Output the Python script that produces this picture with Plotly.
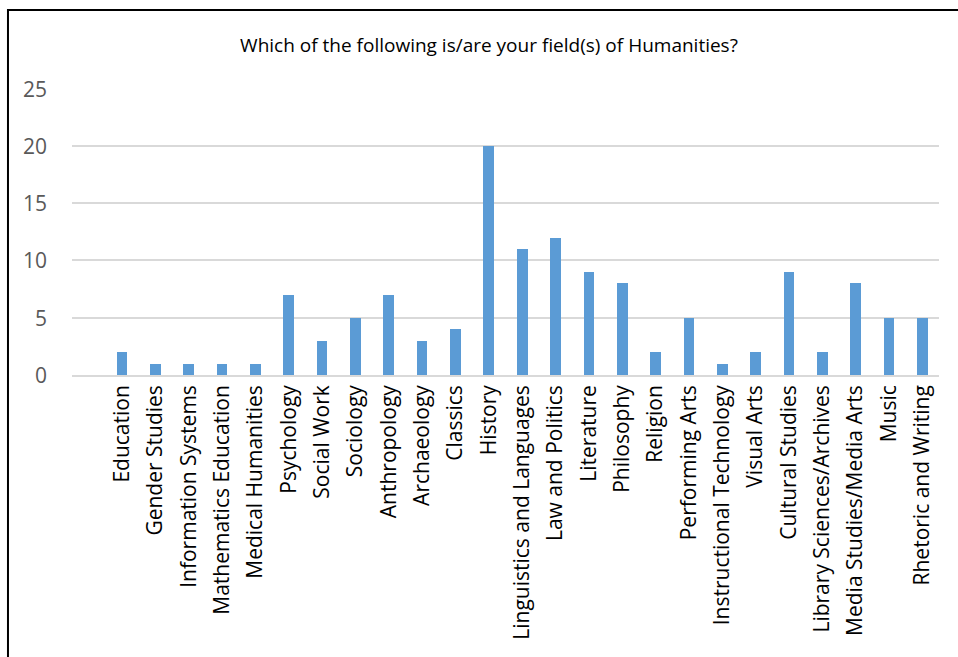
import plotly.graph_objects as go

categories = ["Education", "Gender Studies", "Information Systems", "Mathematics Education",
              "Medical Humanities", "Psychology", "Social Work", "Sociology", "Anthropology",
              "Archaeology", "Classics", "History", "Linguistics and Languages", "Law and Politics",
              "Literature", "Philosophy", "Religion", "Performing Arts", "Instructional Technology",
              "Visual Arts", "Cultural Studies", "Library Sciences/Archives",
              "Media Studies/Media Arts", "Music", "Rhetoric and Writing"]
values = [2, 1, 1, 1, 1, 7, 3, 5, 7, 3, 4, 20, 11, 12, 9, 8, 2, 5, 1, 2, 9, 2, 8, 5, 5]
y_ticks = [0, 5, 10, 15, 20, 25]

positions = list(range(len(categories)))

W, H = 958, 657
L, R, T, B = 72, 958 - 938.7, 88, 657 - 375
pw = W - L - R
ph = H - T - B

fig = go.Figure(go.Bar(x=positions, y=values, marker_color="#5B9BD5",
                       marker_line_width=0, width=0.32))

fig.update_layout(
    width=W, height=H,
    margin=dict(l=L, r=R, t=T, b=B, pad=0, autoexpand=False),
    paper_bgcolor="white", plot_bgcolor="white",
    font=dict(family="Open Sans, sans-serif"),
    title=dict(text="Which of the following is/are your field(s) of Humanities?",
               x=(489 - 0) / W, xanchor="center", y=1 - 45 / H, yanchor="middle",
               font=dict(size=19, color="black")),
    showlegend=False,
    bargap=0,
)
fig.update_xaxes(range=[-1.5, len(categories) - 0.5], tickmode="array", tickvals=positions,
                 ticktext=categories, tickangle=-90, ticks="", showgrid=False,
                 showline=True, linecolor="#d9d9d9", linewidth=1.5, automargin=False,
                 tickfont=dict(size=21, color="black"), zeroline=False)
fig.update_yaxes(range=[0, 25.06], tickmode="array", tickvals=y_ticks, showgrid=True,
                 gridcolor="#d9d9d9", gridwidth=1.5, zeroline=False, showline=False,
                 ticks="", showticklabels=False, automargin=False)

# y tick labels placed further left, as in the reference
for v in y_ticks:
    fig.add_annotation(x=(49 - L) / pw, xref="paper", y=v, yref="y", text=str(v),
                       showarrow=False, xanchor="right", yanchor="middle",
                       font=dict(size=21, color="#595959"))

# chart border
fig.add_shape(type="rect", xref="paper", yref="paper",
              x0=(8 - L) / pw, x1=(970 - L) / pw,
              y0=(375 - 670) / ph, y1=(375 - 10) / ph,
              line=dict(color="black", width=2), fillcolor="rgba(0,0,0,0)", layer="above")

fig.write_html("out.html")
